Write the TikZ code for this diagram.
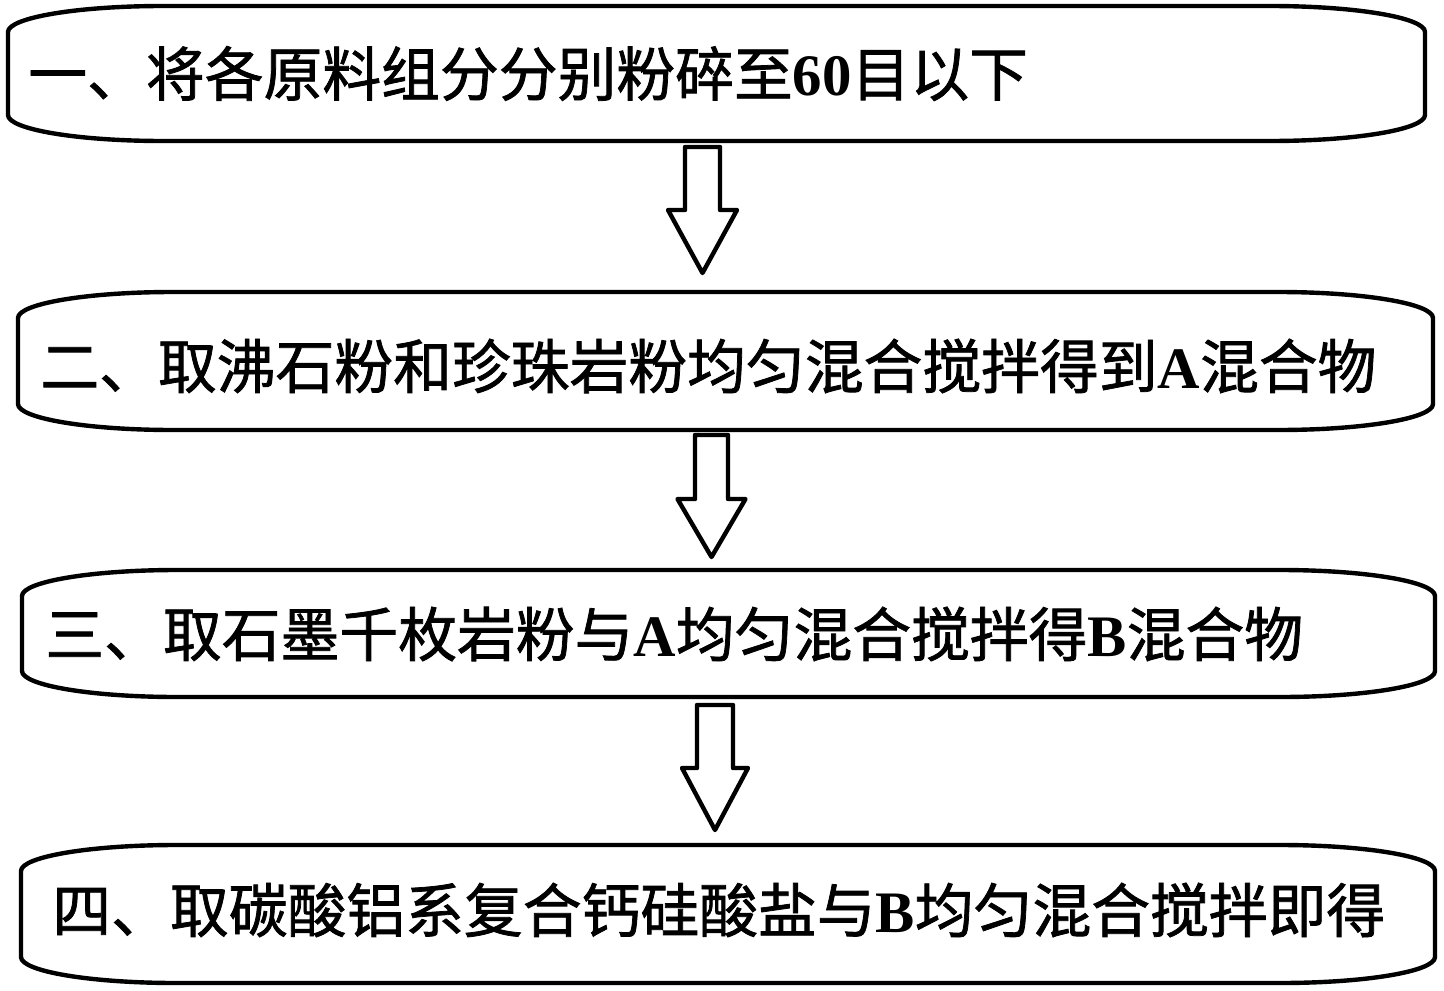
\documentclass[tikz,border=0pt]{standalone}
\usepackage{fontspec}
\newfontfamily\cjk[FakeBold=1.3]{Noto Sans CJK SC}
\newfontfamily\lat{Liberation Serif}
\usetikzlibrary{calc}
\newcommand\latw[1]{{\lat\bfseries #1}}
\tikzset{
  x=0.5pt, y=0.5pt,
  outline/.style={line width=2.2pt, line join=round},
  frame/.style={draw=none, inner sep=0pt, outer sep=0pt},
  steptext/.style={anchor=west, inner sep=0pt, font=\cjk\fontsize{29.4}{29.4}\selectfont},
  blockarrow/.style={draw, line width=2.2pt, line join=round, fill=white}
}
\newcommand\flatbox[1]{%
  \draw[outline] ($(#1.north west)+(77.5pt,0pt)$) -- ($(#1.north east)+(-77.5pt,0pt)$)
    arc[start angle=90, end angle=0, x radius=77.5pt, y radius=13pt]
    -- ($(#1.south east)+(0pt,13pt)$)
    arc[start angle=0, end angle=-90, x radius=77.5pt, y radius=13pt]
    -- ($(#1.south west)+(77.5pt,0pt)$)
    arc[start angle=270, end angle=180, x radius=77.5pt, y radius=13pt]
    -- ($(#1.north west)+(0pt,-13pt)$)
    arc[start angle=180, end angle=90, x radius=77.5pt, y radius=13pt]
    -- cycle;}
\newcommand\blockarrow[6]{%
  \draw[blockarrow] (#1-#5,-#2) -- (#1+#5,-#2) -- (#1+#5,-#3) -- (#1+#6,-#3)
    -- (#1,-#4) -- (#1-#6,-#3) -- (#1-#5,-#3) -- cycle;}
\begin{document}
\begin{tikzpicture}
\useasboundingbox (0,0) rectangle (1444,-990);
\fill[white] (0,0) rectangle (1444,-990);
\node[frame, minimum width=708.5pt, minimum height=67.5pt] (b1) at (716.5,-73.5) {};
\node[frame, minimum width=707.5pt, minimum height=69pt] (b2) at (725.5,-361) {};
\node[frame, minimum width=706.5pt, minimum height=63.5pt] (b3) at (728.5,-633.5) {};
\node[frame, minimum width=707pt, minimum height=69pt] (b4) at (728,-914) {};
\flatbox{b1}
\flatbox{b2}
\flatbox{b3}
\flatbox{b4}
\node[steptext] (t1) at (28,-73.5) {一、将各原料组分分别粉碎至\latw{60}目以下};
\node[steptext] (t2) at (40,-366) {二、取沸石粉和珍珠岩粉均匀混合搅拌得到\latw{A}混合物};
\node[steptext] (t3) at (45,-634) {三、取石墨千枚岩粉与\latw{A}均匀混合搅拌得\latw{B}混合物};
\node[steptext] (t4) at (52,-910) {四、取碳酸铝系复合钙硅酸盐与\latw{B}均匀混合搅拌即得};
\blockarrow{702.5}{147}{210}{273}{17.5}{34.5}
\blockarrow{711.5}{435}{499}{557}{16.5}{34}
\blockarrow{715}{705}{768}{830}{18}{33}
\end{tikzpicture}
\end{document}
